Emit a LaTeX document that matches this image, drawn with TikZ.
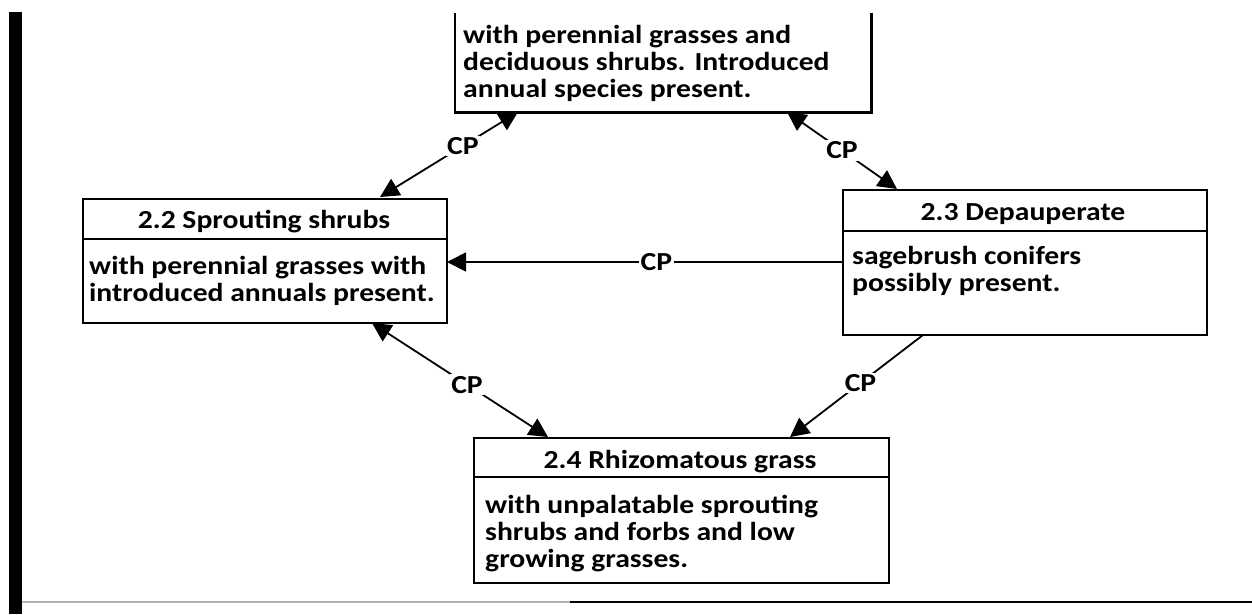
\documentclass[tikz,border=0pt]{standalone}
\usepackage{fontspec}
\setmainfont{Carlito}[FakeStretch=1.14]
\usetikzlibrary{arrows.meta}
\begin{document}
\begin{tikzpicture}[x=1pt,y=-1pt,
  boxline/.style={line width=2.4pt,black},
  stbox/.style={draw,boxline,rectangle,anchor=north west,inner sep=0pt},
  ttl/.style={font=\fontsize{26}{27}\selectfont\bfseries,inner sep=0pt},
  bodytxt/.style={font=\fontsize{26}{27}\selectfont\bfseries,align=left,anchor=north west,inner sep=0pt},
  conn/.style={line width=1.8pt,black},
  cp/.style={font=\fontsize{26}{27}\selectfont\bfseries,fill=white,inner sep=1.5pt}]
\useasboundingbox (0,0) rectangle (1252,614);
\fill[white] (0,0) rectangle (1252,614);
% page frame remnants
\fill[black] (9,12) rectangle (22,614);
\draw[gray!60,line width=1.5pt] (22,602) -- (570,602);
\draw[black,line width=2.5pt] (570,602) -- (1252,602);

% 2.1 top box (cut off at the top)
\node[inner sep=0pt,minimum width=416pt,minimum height=99pt,anchor=north west] (b21) at (455,13) {};
\draw[boxline] (b21.north west) -- (b21.south west) -- (b21.south east) -- (b21.north east);
\node[bodytxt] (t21) at (463,25) {with perennial grasses and\\deciduous shrubs. Introduced\\annual species present.};

% 2.2
\node[stbox,minimum width=364pt,minimum height=124pt] (b22) at (82,198) {};
\draw[boxline] (82,239) coordinate (d22a) -- (446,239) coordinate (d22b);
\node[ttl] (h22) at (264,222) {2.2 Sprouting shrubs};
\node[bodytxt] (t22) at (89,256) {with perennial grasses with\\introduced annuals present.};

% 2.3
\node[stbox,minimum width=364pt,minimum height=145pt] (b23) at (842,189) {};
\draw[boxline] (842,231) coordinate (d23a) -- (1206,231) coordinate (d23b);
\node[ttl] (h23) at (1023,214) {2.3 Depauperate};
\node[bodytxt] (t23) at (852,246) {sagebrush conifers\\possibly present.};

% 2.4
\node[stbox,minimum width=415pt,minimum height=145pt] (b24) at (473,437) {};
\draw[boxline] (473,477) coordinate (d24a) -- (888,477) coordinate (d24b);
\node[ttl] (h24) at (680,462) {2.4 Rhizomatous grass};
\node[bodytxt] (t24) at (485,495) {with unpalatable sprouting\\shrubs and forbs and low\\growing grasses.};

% connector end points
\coordinate (p1a) at (518,112);
\coordinate (p1b) at (380,197);
\coordinate (p2a) at (787,112);
\coordinate (p2b) at (897,189);
\coordinate (p3a) at (842,262);
\coordinate (p3b) at (447,262);
\coordinate (p4a) at (372,323);
\coordinate (p4b) at (548,437);
\coordinate (p5a) at (923,335);
\coordinate (p5b) at (790,437);

\draw[conn,{Triangle[length=19pt,width=19pt]}-{Triangle[length=19pt,width=19pt]}] (p1a) -- node[cp,pos=0.4] (cp1) {CP} (p1b);
\draw[conn,{Triangle[length=19pt,width=19pt]}-{Triangle[length=19pt,width=19pt]}] (p2a) -- node[cp,pos=0.5] (cp2) {CP} (p2b);
\draw[conn,-{Triangle[length=19pt,width=19pt]}] (p3a) -- node[cp,pos=0.47] (cp3) {CP} (p3b);
\draw[conn,{Triangle[length=19pt,width=19pt]}-{Triangle[length=19pt,width=19pt]}] (p4a) -- node[cp,pos=0.54] (cp4) {CP} (p4b);
\draw[conn,-{Triangle[length=19pt,width=19pt]}] (p5a) -- node[cp,pos=0.47] (cp5) {CP} (p5b);
\end{tikzpicture}
\end{document}
